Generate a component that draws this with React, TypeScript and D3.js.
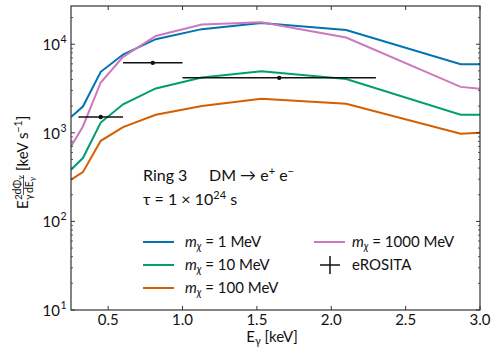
import * as d3 from "d3";

const energies = [0.25, 0.33, 0.45, 0.6, 0.82, 1.13, 1.53, 2.1, 2.87, 3.0];
const mass1 = [1510, 1980, 4880, 7650, 11400, 14800, 17400, 14500, 5950, 5950];
const mass10 = [383, 519, 1306, 2100, 3170, 4220, 4960, 4040, 1600, 1600];
const mass100 = [296, 360, 813, 1160, 1600, 2010, 2420, 2130, 975, 1000];
const mass1000 = [700, 1180, 3700, 7200, 12400, 16700, 17700, 11900, 3300, 3140];

const eroE = [0.45, 0.8, 1.65];
const eroLo = [0.3, 0.6, 1.0];
const eroHi = [0.6, 1.0, 2.3];
const eroFlux = [1510, 6160, 4170];

const xTicks = [0.5, 1.0, 1.5, 2.0, 2.5, 3.0];
const yTicks = [10, 100, 1000, 10000];
const yExp = ["1", "2", "3", "4"];

const series = [
  { label: "1", values: mass1, color: "#0173b2" },
  { label: "10", values: mass10, color: "#029e73" },
  { label: "100", values: mass100, color: "#d55e00" },
  { label: "1000", values: mass1000, color: "#cc78bc" },
];

const W = 498;
const H = 358;
const m = { left: 71, right: 18, top: 6, bottom: 48 };
const FONT = "Lato, 'DejaVu Sans', sans-serif";
const AX = "#333";

export default function App() {
  const x = d3.scaleLinear().domain([0.25, 3.0]).range([m.left, W - m.right]);
  const y = d3.scaleLog().domain([10, 27000]).range([H - m.bottom, m.top]);
  const [x0, x1] = x.range();
  const [yb, yt] = y.range();

  const line = d3
    .line<number>()
    .x((_, i) => x(energies[i]))
    .y((v) => y(v));

  const minorY: number[] = [];
  for (let p = 1; p <= 4; p++) {
    for (let k = 2; k <= 9; k++) {
      const v = k * Math.pow(10, p);
      if (v < 27000) minorY.push(v);
    }
  }

  const legendRows = [
    { x: 143, tx: 185, y: 242, s: series[0] },
    { x: 143, tx: 185, y: 265, s: series[1] },
    { x: 143, tx: 185, y: 288, s: series[2] },
    { x: 314, tx: 352, y: 242, s: series[3] },
  ];

  return (
    <svg width={W} height={H} style={{ position: "absolute", left: 0, top: 0 }} fontFamily={FONT}>
      <rect width={W} height={H} fill="white" />
      <defs>
        <clipPath id="plot">
          <rect x={x0} y={yt} width={x1 - x0} height={yb - yt} />
        </clipPath>
      </defs>

      {/* curves */}
      <g clipPath="url(#plot)">
        {series.map((s) => (
          <path key={s.label} d={line(s.values) || ""} fill="none" stroke={s.color} strokeWidth={2} />
        ))}
      </g>

      {/* eROSITA points */}
      {eroE.map((e, i) => (
        <g key={i}>
          <line x1={x(eroLo[i])} x2={x(eroHi[i])} y1={y(eroFlux[i])} y2={y(eroFlux[i])} stroke="#111" strokeWidth={1.5} />
          <circle cx={x(e)} cy={y(eroFlux[i])} r={2.2} fill="#111" />
        </g>
      ))}

      {/* frame */}
      <rect x={x0} y={yt} width={x1 - x0} height={yb - yt} fill="none" stroke={AX} strokeWidth={1.2} />

      {/* x ticks */}
      {xTicks.map((t) => (
        <g key={t}>
          <line x1={x(t)} x2={x(t)} y1={yb} y2={yb - 4} stroke={AX} />
          <line x1={x(t)} x2={x(t)} y1={yt} y2={yt + 4} stroke={AX} />
          <text x={x(t)} y={325} textAnchor="middle" fontSize={15} fill="#111">
            {t.toFixed(1)}
          </text>
        </g>
      ))}

      {/* y ticks */}
      {yTicks.map((t, i) => (
        <g key={t}>
          <line x1={x0} x2={x0 + 4} y1={y(t)} y2={y(t)} stroke={AX} />
          <line x1={x1} x2={x1 - 4} y1={y(t)} y2={y(t)} stroke={AX} />
          <text x={60} y={y(t) + 6} textAnchor="end" fontSize={15} fill="#111">
            10
          </text>
          <text x={60.5} y={y(t) - 1} textAnchor="start" fontSize={10.5} fill="#111">
            {yExp[i]}
          </text>
        </g>
      ))}
      {minorY.map((t) => (
        <g key={"m" + t}>
          <line x1={x0} x2={x0 + 2} y1={y(t)} y2={y(t)} stroke={AX} strokeWidth={0.8} />
          <line x1={x1} x2={x1 - 2} y1={y(t)} y2={y(t)} stroke={AX} strokeWidth={0.8} />
        </g>
      ))}

      {/* x label */}
      <text x={272} y={342} textAnchor="middle" fontSize={15} fill="#111">
        E<tspan fontSize={10.5} dy={3}>γ</tspan>
        <tspan dy={-3}> [keV]</tspan>
      </text>

      {/* y label */}
      <g transform="translate(28,155) rotate(-90)" fill="#111">
        <text x={-54} y={0} fontSize={15}>E</text>
        <text x={-45} y={-6} fontSize={10}>2</text>
        <text x={-45} y={4} fontSize={10}>γ</text>
        <text x={-30} y={-7} fontSize={10.5} textAnchor="middle">
          dΦ<tspan fontSize={8} dy={2}>γ</tspan>
        </text>
        <line x1={-40} x2={-20} y1={-4.5} y2={-4.5} stroke="#111" strokeWidth={0.7} />
        <text x={-30} y={5} fontSize={10.5} textAnchor="middle">
          dE<tspan fontSize={8} dy={2}>γ</tspan>
        </text>
        <text x={-16} y={0} fontSize={15}>
          [keV s<tspan fontSize={10.5} dy={-6}>−1</tspan>
          <tspan dy={6}>]</tspan>
        </text>
      </g>

      {/* annotation */}
      <text x={143} y={181} fontSize={16} fill="#111">Ring 3</text>
      <text x={209} y={181} fontSize={16} fill="#111">
        DM → e<tspan fontSize={11} dy={-6}>+</tspan>
        <tspan dy={6}> e</tspan>
        <tspan fontSize={11} dy={-6}>−</tspan>
      </text>
      <text x={143} y={205} fontSize={16} fill="#111">
        τ = 1 × 10<tspan fontSize={11} dy={-6}>24</tspan>
        <tspan dy={6}> s</tspan>
      </text>

      {/* legend */}
      {legendRows.map((r) => (
        <g key={r.s.label}>
          <line x1={r.x} x2={r.x + 31} y1={r.y} y2={r.y} stroke={r.s.color} strokeWidth={2} />
          <text x={r.tx} y={r.y + 5} fontSize={15} fill="#111">
            <tspan fontStyle="italic">m</tspan>
            <tspan fontStyle="italic" fontSize={10.5} dy={3}>χ</tspan>
            <tspan dy={-3}> = {r.s.label} MeV</tspan>
          </text>
        </g>
      ))}
      <g>
        <line x1={320} x2={340} y1={265} y2={265} stroke="#111" strokeWidth={1.5} />
        <line x1={330} x2={330} y1={256} y2={274} stroke="#111" strokeWidth={1.5} />
        <text x={352} y={270} fontSize={15} fill="#111">eROSITA</text>
      </g>
    </svg>
  );
}
